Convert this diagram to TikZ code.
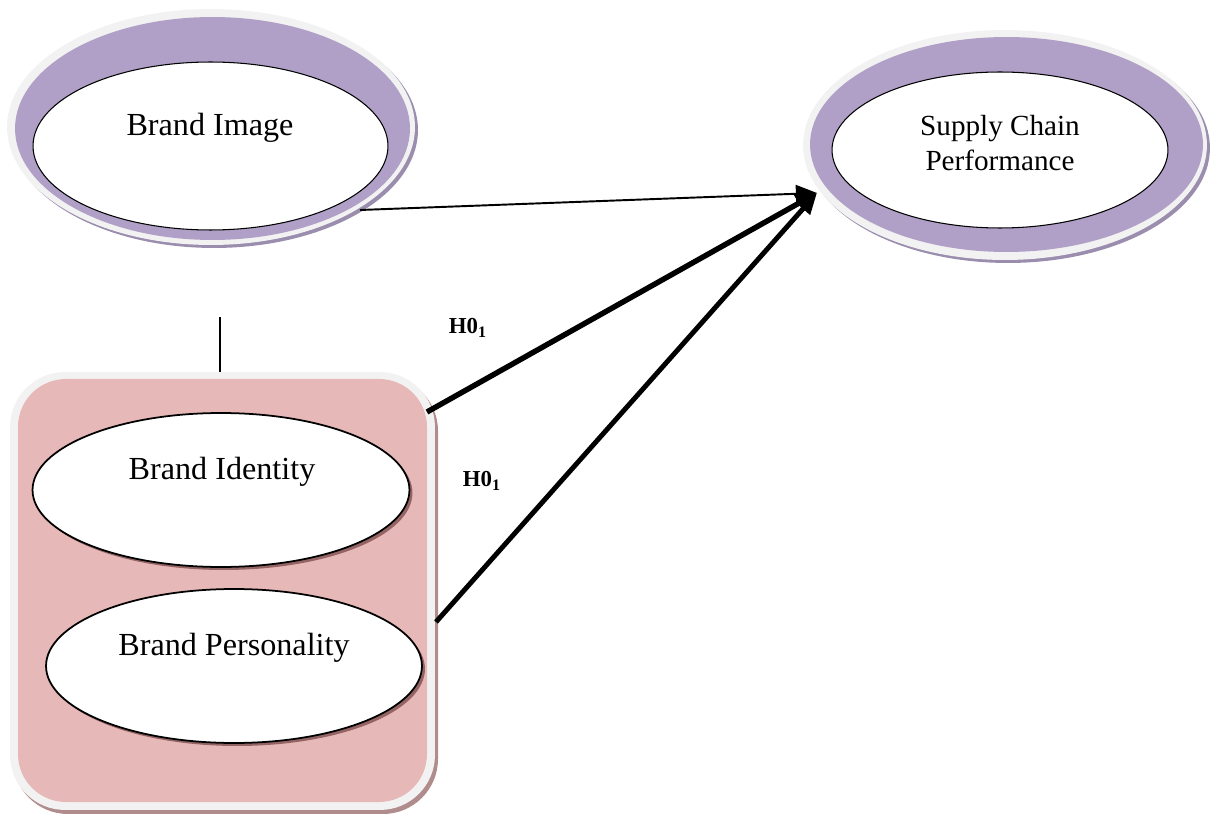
\documentclass[tikz,border=0pt]{standalone}
\usepackage{fontspec}
\setmainfont{Liberation Serif}
\usetikzlibrary{arrows.meta,shapes.geometric,calc}
\definecolor{ringgrey}{HTML}{F2F2F2}
\definecolor{ringpurple}{HTML}{B09FC6}
\definecolor{purpshadow}{HTML}{9A8DAE}
\definecolor{boxpink}{HTML}{E6B8B7}
\definecolor{pinkshadow}{HTML}{B08C8C}
\definecolor{innershadow}{HTML}{946464}
\begin{document}
\begin{tikzpicture}[x=0.02cm,y=-0.02cm,
  ell/.style={ellipse,inner sep=0pt},
  outerell/.style={ell,fill=ringgrey},
  purpell/.style={ell,fill=ringpurple},
  innerell/.style={ell,fill=white,draw=black,line width=0.6pt},
  brandtxt/.style={font=\fontsize{18.3}{21}\selectfont},
  scptxt/.style={font=\fontsize{16.6}{19.5}\selectfont,align=center},
  hyp/.style={font=\fontsize{13}{15}\selectfont\bfseries},
  thinarr/.style={line width=1.1pt,-{Triangle[length=12pt,width=10pt]}},
  thickarr/.style={line width=3.1pt,-{Triangle[length=12pt,width=10pt]}}]
\useasboundingbox (0,0) rectangle (1211,814);
% Brand Image
\node[ell,fill=purpshadow,minimum width=8.16cm,minimum height=4.72cm] (bishadow) at (214,130) {};
\node[outerell,minimum width=8.16cm,minimum height=4.72cm] (bi) at (211,127) {};
\node[purpell,minimum width=7.9cm,minimum height=4.46cm] (bip) at (212.5,128.5) {};
\node[innerell,minimum width=7.1cm,minimum height=3.36cm] (bii) at (210.5,146) {};
\node[brandtxt] (bitext) at (210,128) {Brand Image};
% Supply Chain Performance
\node[ell,fill=purpshadow,minimum width=8.08cm,minimum height=4.6cm] (scpshadow) at (1008,148) {};
\node[outerell,minimum width=8.08cm,minimum height=4.6cm] (scp) at (1005,145) {};
\node[purpell,minimum width=7.86cm,minimum height=4.3cm] (scpp) at (1006.5,144.5) {};
\node[innerell,minimum width=6.72cm,minimum height=3.12cm] (scpi) at (1000,150) {};
\node[scptxt] (scptext) at (1000,143) {Supply Chain\\Performance};
% Box
\draw[fill=pinkshadow,draw=none,rounded corners=1.1cm] (13,376) rectangle (438,814);
\node[draw=none,fill=ringgrey,rounded corners=1.1cm,minimum width=8.5cm,minimum height=8.76cm,inner sep=0pt] (box) at (222.5,591) {};
\draw[fill=boxpink,draw=none,rounded corners=0.96cm] (18,379) rectangle (427,802);
% Brand Identity
\node[ell,fill=innershadow,minimum width=7.54cm,minimum height=3.08cm] (bidsh) at (224,493) {};
\node[innerell,minimum width=7.54cm,minimum height=3.08cm,line width=1pt] (bid) at (221,490) {};
\node[brandtxt] (bidtext) at (222,472) {Brand Identity};
% Brand Personality
\node[ell,fill=innershadow,minimum width=7.52cm,minimum height=3.08cm] (bpsh) at (237,669) {};
\node[innerell,minimum width=7.52cm,minimum height=3.08cm,line width=1pt] (bp) at (234,666) {};
\node[brandtxt] (bptext) at (234,648) {Brand Personality};
% vertical line
\coordinate (vtop) at (220,317);
\draw[line width=0.8pt] (vtop) -- (box.north -| vtop);
% arrows
\coordinate (tip) at (817,193);
\coordinate (s0) at (360,210);
\coordinate (s1) at (427,412);
\coordinate (s2) at (436,622);
\draw[thinarr] (s0) -- (tip);
\draw[thickarr] (s1) -- (tip);
\draw[thickarr,line width=2.8pt] (s2) -- (tip);
% labels
\node[hyp] (h1) at (468,328) {H0\textsubscript{1}};
\node[hyp] (h2) at (482,481) {H0\textsubscript{1}};
\end{tikzpicture}
\end{document}
